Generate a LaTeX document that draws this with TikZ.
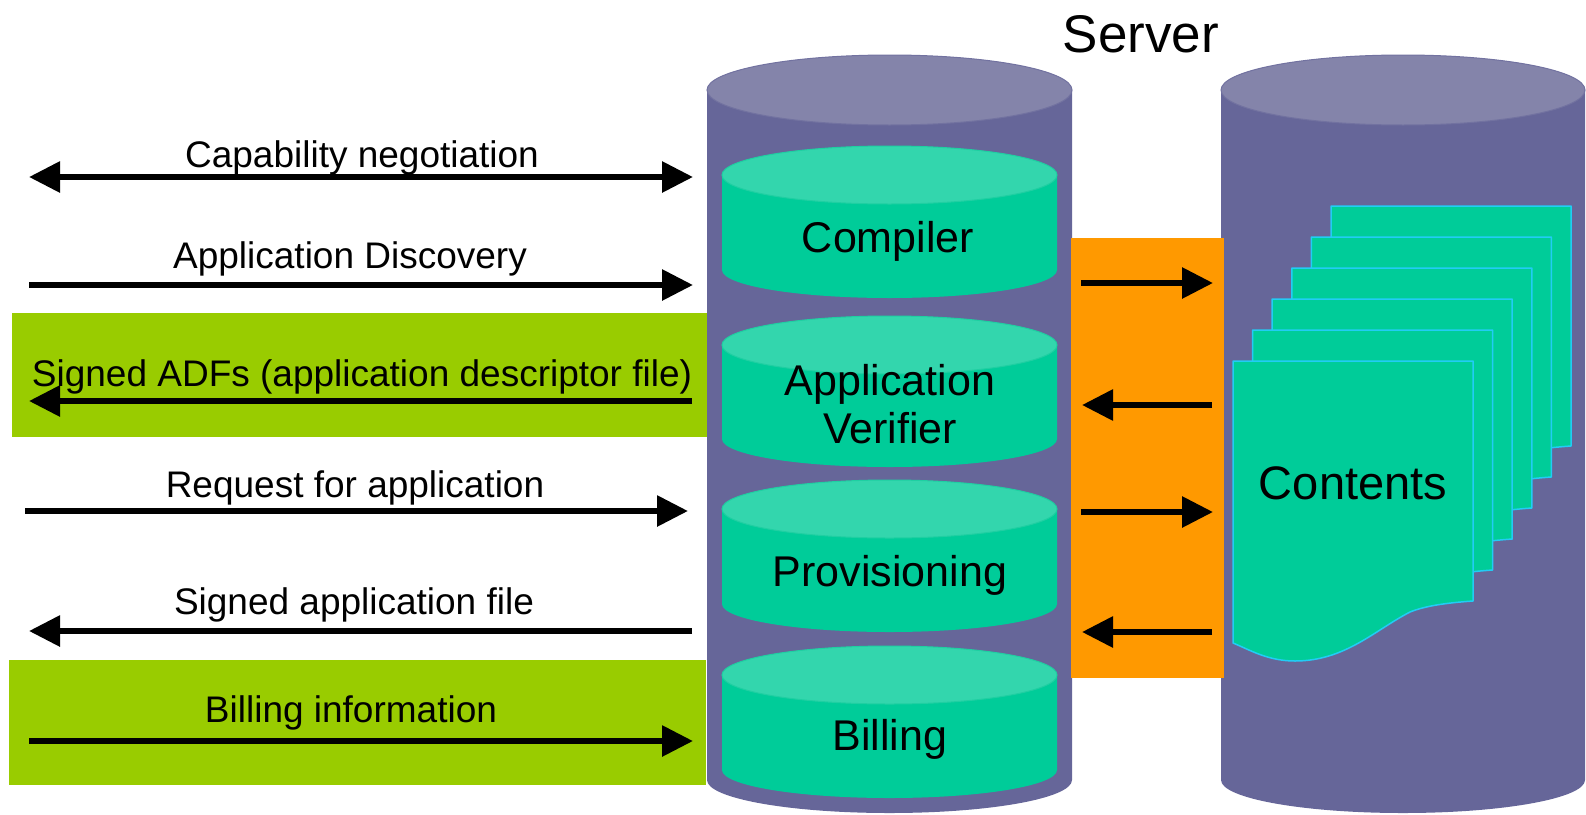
\documentclass[tikz,border=0pt]{standalone}
\usepackage{fontspec}
\setmainfont{Liberation Sans}
\usepackage{xcolor}
\usetikzlibrary{arrows.meta}
\definecolor{drumbody}{HTML}{666699}
\definecolor{drumtop}{HTML}{8484AA}
\definecolor{drumrim}{HTML}{7272A0}
\definecolor{diskbody}{HTML}{00CC99}
\definecolor{disktop}{HTML}{33D6AD}
\definecolor{diskrim}{HTML}{1FCFA2}
\definecolor{bandgreen}{HTML}{99CC00}
\definecolor{linkorange}{HTML}{FF9900}
\definecolor{pageedge}{HTML}{22CCF5}

\begin{document}
\begin{tikzpicture}[
			x=1pt, y=-1pt,
			msg/.style={anchor=base, inner sep=0pt, font=\fontsize{37}{40}\selectfont},
			disklabel/.style={anchor=base, inner sep=0pt, font=\fontsize{43}{48}\selectfont},
			flow/.style={line width=6pt, -{Triangle[length=31pt,width=30pt]}},
			band/.style={fill=bandgreen},
			diskbody/.style={fill=diskbody},
			disktop/.style={fill=disktop, draw=diskrim, line width=1pt},
			drumtop/.style={fill=drumtop, draw=drumrim, line width=1pt},
			page/.style={fill=diskbody, draw=pageedge, line width=1.5pt, line join=round}
			]
			\useasboundingbox (0,0) rectangle (1586,814);
			
			% Highlighted messages
			\fill[band] (12,313) rectangle (708,437);
			\fill[band] (9,660) rectangle (706,785);
			
			% Server drums
			\fill[drumbody] (707,90) -- (707,780) arc[start angle=180, end angle=360, x radius=182.5pt, y radius=33pt] -- (1072,90) -- cycle;
			\filldraw[drumtop] (889.5,90) ellipse[x radius=182.5pt, y radius=35pt];
			\fill[drumbody] (1221,90) -- (1221,780) arc[start angle=180, end angle=360, x radius=182pt, y radius=33pt] -- (1585,90) -- cycle;
			\filldraw[drumtop] (1403,90) ellipse[x radius=182pt, y radius=35pt];
			
			% Modules
			\foreach \t/\b in {146/298, 316/467, 480/632, 646/798} {
				\fill[diskbody] (722,\t+29) -- (722,\b-28) arc[start angle=180, end angle=360, x radius=167.5pt, y radius=28pt] -- (1057,\t+29) -- cycle;
				\filldraw[disktop] (889.5,\t+29) ellipse[x radius=167.5pt, y radius=29pt];
			}
			\node[disklabel] (compiler) at (888,252) {Compiler};
			\node[disklabel] (verifier) at (890,395) {Application};
			\node[disklabel] (verifier2) at (890,443) {Verifier};
			\node[disklabel] (provision) at (890,586) {Provisioning};
			\node[disklabel] (billing) at (890,750) {Billing};
			
			\node[anchor=base, inner sep=0pt, font=\fontsize{53}{58}\selectfont] (server) at (1141,52) {Server};
			
			% Internal link
			\fill[linkorange] (1071,238) rectangle (1224,678);
			
			% Contents stack
			\foreach \i in {5,4,...,0} {
				\filldraw[page, shift={({19.6*\i},{-31*\i})}] (1233,361) -- (1473,361) -- (1473,601)
					.. controls (1445,603) and (1425,606) .. (1410,612)
					.. controls (1375,630) and (1345,661) .. (1295,661)
					.. controls (1268,661) and (1250,650) .. (1233,643) -- cycle;
			}
			\node[anchor=base, inner sep=0pt, font=\fontsize{47}{52}\selectfont] (contents) at (1353,499) {Contents};
			
			% Client side messages
			\coordinate (capL) at (29,177);
			\coordinate (capR) at (693,177);
			\coordinate (discL) at (29,285);
			\coordinate (discR) at (693,285);
			\coordinate (adfL) at (29,401);
			\coordinate (adfR) at (692,401);
			\coordinate (reqL) at (25,511);
			\coordinate (reqR) at (688,511);
			\coordinate (fileL) at (29,631);
			\coordinate (fileR) at (692,631);
			\coordinate (billL) at (29,741);
			\coordinate (billR) at (693,741);
			
			\draw[flow, {Triangle[length=31pt,width=30pt]}-{Triangle[length=31pt,width=30pt]}] (capL) -- (capR);
			\draw[flow] (discL) -- (discR);
			\draw[flow] (adfR) -- (adfL);
			\draw[flow] (reqL) -- (reqR);
			\draw[flow] (fileR) -- (fileL);
			\draw[flow] (billL) -- (billR);
			
			\node[msg] (capmsg) at (362,167) {Capability negotiation};
			\node[msg] (discmsg) at (350,268) {Application Discovery};
			\node[msg] (adfmsg) at (362,386) {Signed ADFs (application descriptor file)};
			\node[msg] (reqmsg) at (355,497) {Request for application};
			\node[msg] (filemsg) at (354,614) {Signed application file};
			\node[msg] (billmsg) at (351,722) {Billing information};
			
			% Server internal messages
			\coordinate (o1L) at (1081,283);
			\coordinate (o1R) at (1213,283);
			\coordinate (o2L) at (1082,405);
			\coordinate (o2R) at (1212,405);
			\coordinate (o3L) at (1081,512);
			\coordinate (o3R) at (1213,512);
			\coordinate (o4L) at (1082,632);
			\coordinate (o4R) at (1212,632);
			\draw[flow] (o1L) -- (o1R);
			\draw[flow] (o2R) -- (o2L);
			\draw[flow] (o3L) -- (o3R);
			\draw[flow] (o4R) -- (o4L);
			
		\end{tikzpicture}
\end{document}
